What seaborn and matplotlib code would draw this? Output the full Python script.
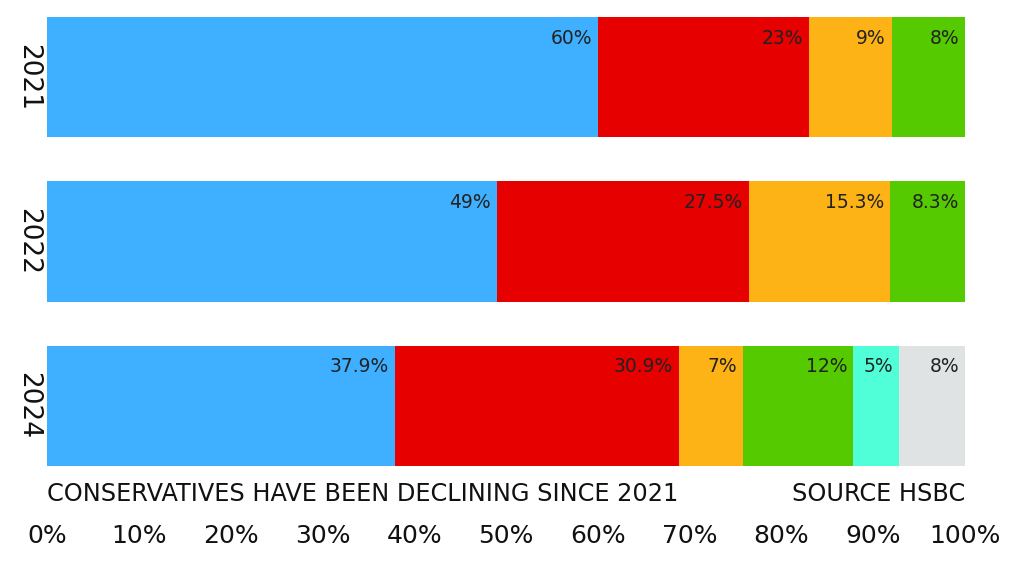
import matplotlib
matplotlib.use("Agg")
import matplotlib.pyplot as plt
import seaborn as sns
import pandas as pd
import numpy as np

# ---- data ----
years = ["2021", "2022", "2024"]
blue = [60, 49, 37.9]
red = [23, 27.5, 30.9]
orange = [9, 15.3, 7]
green = [8, 8.3, 12]
cyan = [0, 0, 5]
grey = [0, 0, 8]
x_ticks = [0, 10, 20, 30, 40, 50, 60, 70, 80, 90, 100]
caption = "CONSERVATIVES HAVE BEEN DECLINING SINCE 2021"
source = "SOURCE HSBC"

series = [blue, red, orange, green, cyan, grey]
colors = ["#3FB0FF", "#E60000", "#FDB215", "#55CA00", "#50FFD8", "#DFE3E3"]

sns.set_theme(style="white")
plt.rcParams["font.family"] = ["DejaVu Sans"]

fig = plt.figure(figsize=(10.24, 5.64), dpi=100)
ax = fig.add_axes([47 / 1024, 1 - 466 / 564, (965 - 47) / 1024, (466 - 17) / 564])

vals = np.array(series, dtype=float)  # shape (n_series, n_years)
cum = np.cumsum(vals, axis=0)

# draw cumulative bars from the last segment to the first (stacked look)
for j in range(len(series) - 1, -1, -1):
    df = pd.DataFrame({"year": years, "value": cum[j]})
    sns.barplot(data=df, x="value", y="year", orient="h", color=colors[j],
                saturation=1, width=0.73, errorbar=None, linewidth=0, ax=ax)

for i in range(len(years)):
    for j in range(len(series)):
        v = vals[j, i]
        if v <= 0:
            continue
        end = min(cum[j, i], 100)
        ax.text(end - 0.65, i - 0.237, f"{v:g}%", ha="right", va="center",
                fontsize=13.5, color="#222222")

ax.set_xlim(0, 100)
ax.set_ylim(2.365, -0.365)
ax.set_xticks(x_ticks)
ax.set_xticklabels([f"{t}%" for t in x_ticks], fontsize=18, color="#111111")
ax.set_yticks(range(len(years)))
ax.set_yticklabels(years, rotation=270, fontsize=19, color="#111111", va="center")
ax.tick_params(axis="x", length=0, pad=42)
ax.tick_params(axis="y", length=0, pad=4)
ax.set_xlabel("")
ax.set_ylabel("")
for s in ax.spines.values():
    s.set_visible(False)

fig.text(47 / 1024, 1 - 494 / 564, caption, ha="left", va="center",
         fontsize=17.3, color="#111111")
fig.text(965 / 1024, 1 - 494 / 564, source, ha="right", va="center",
         fontsize=17.3, color="#111111")

fig.savefig("out.png", dpi=100, facecolor="white")
